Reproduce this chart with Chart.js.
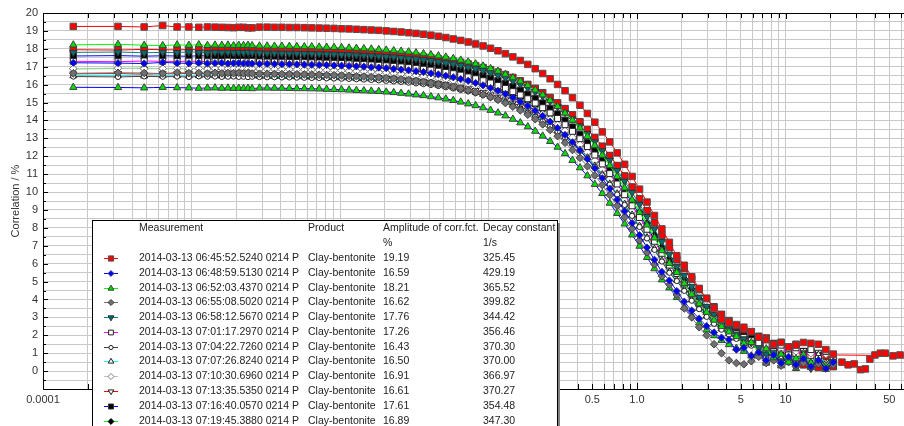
<!DOCTYPE html>
<html>
<head>
<meta charset="utf-8">
<script src="https://cdn.jsdelivr.net/npm/chart.js@4.4.1/dist/chart.umd.min.js"></script>
<style>
  html, body { margin: 0; padding: 0; background: #fff; overflow: hidden; }
  #wrap { width: 904px; height: 426px; overflow: hidden; }
  canvas { display: block; }
</style>
</head>
<body>
<div id="wrap"><canvas id="corr-chart" width="944" height="426"></canvas></div>
<script>
// lag times shared by every measurement (x axis, log)
const LAG_TIMES = [0.00016, 0.00032, 0.00048, 0.00064, 0.0008, 0.00096, 0.00112, 0.00128, 0.00144, 0.0016, 0.00176, 0.00192, 0.00208, 0.00224, 0.0024, 0.00256,
  0.00287, 0.00323, 0.00362, 0.00406, 0.00456, 0.00512, 0.00575, 0.00645, 0.00724, 0.00813, 0.00912, 0.01024, 0.0115,
  0.0129, 0.01448, 0.01625, 0.01824, 0.02048, 0.02299, 0.0258, 0.02896, 0.0325, 0.03648, 0.04095, 0.04597, 0.0516, 0.05792, 0.065,
  0.07297, 0.0819, 0.09194, 0.1032, 0.1158, 0.13, 0.1459, 0.1638, 0.1839, 0.2064, 0.2317, 0.26, 0.2919, 0.3277, 0.3678, 0.4129,
  0.4634, 0.52, 0.5838, 0.6554, 0.7356, 0.8258, 0.9269, 1.04, 1.168, 1.311, 1.471, 1.652, 1.854, 2.081, 2.336, 2.621, 2.943,
  3.303, 3.707, 4.161, 4.671, 5.243, 5.885, 6.606, 7.415, 8.323, 9.342, 10.49, 11.77, 13.21, 14.83, 16.65, 18.69, 20.97];

const CORR_1 = [19.25, 19.25, 19.22, 19.3, 19.22, 19.22, 19.2, 19.22, 19.21, 19.2, 19.19, 19.18, 19.2, 19.2, 19.17, 19.17,
  19.21, 19.21, 19.2, 19.2, 19.19, 19.19, 19.18, 19.17, 19.16, 19.15, 19.14, 19.12, 19.11,
  19.09, 19.07, 19.05, 19.03, 19.0, 18.97, 18.94, 18.9, 18.86, 18.81, 18.76, 18.7, 18.63, 18.55, 18.47, 18.38, 18.27, 18.16, 18.03, 17.89,
  17.73, 17.55, 17.35, 17.13, 16.89, 16.62, 16.33, 16.01, 15.66, 15.27, 14.85, 14.39, 13.9, 13.36, 12.8, 12.19, 11.55, 10.87, 10.16, 9.44,
  8.69, 7.94, 7.19, 6.44, 5.91, 5.27, 4.62, 4.07, 3.5, 2.9, 2.7, 2.6, 2.45, 2.2, 1.9, 1.75, 1.5, 1.6, 1.35, 1.45, 1.6, 1.55, 1.5, 1.2, 0.95];
const CORR_2 = [17.22, 17.2, 17.18, 17.24, 17.2, 17.19, 17.21, 17.18, 17.2, 17.21, 17.17, 17.19, 17.2, 17.18, 17.19, 17.17,
  17.16, 17.16, 17.15, 17.14, 17.14, 17.13, 17.12, 17.11, 17.1, 17.09, 17.07, 17.06, 17.04,
  17.02, 17.0, 16.97, 16.95, 16.92, 16.88, 16.84, 16.8, 16.75, 16.7, 16.63, 16.57, 16.49, 16.41, 16.31, 16.21, 16.09, 15.96, 15.81, 15.65,
  15.47, 15.27, 15.05, 14.81, 14.55, 14.25, 13.93, 13.58, 13.19, 12.78, 12.33, 11.84, 11.33, 10.77, 10.19, 9.57, 8.93, 8.27, 7.59, 6.9,
  6.22, 5.54, 5.06, 4.47, 3.88, 3.38, 2.93, 2.51, 2.16, 1.87, 1.75, 1.2, 1.3, 0.85, 1.05, 0.6, 0.9, 0.45, 0.8, 0.35, 0.7, 0.25, 0.6, 0.15, 0.5];
const CORR_3 = [18.22, 18.25, 18.2, 18.18, 18.22, 18.2, 18.23, 18.19, 18.21, 18.2, 18.21, 18.18, 18.2, 18.19, 18.2, 18.18,
  18.16, 18.16, 18.15, 18.15, 18.14, 18.13, 18.12, 18.12, 18.1, 18.09, 18.08, 18.07, 18.05,
  18.03, 18.01, 17.99, 17.96, 17.93, 17.9, 17.87, 17.83, 17.78, 17.73, 17.67, 17.61, 17.54, 17.46, 17.37, 17.27, 17.16, 17.04, 16.9, 16.75,
  16.58, 16.39, 16.19, 15.96, 15.7, 15.43, 15.12, 14.78, 14.41, 14.01, 13.58, 13.11, 12.6, 12.06, 11.48, 10.87, 10.23, 9.56, 8.87, 8.16,
  7.44, 6.73, 6.02, 5.51, 4.9, 4.29, 3.76, 3.29, 2.85, 2.49, 2.19, 1.93, 1.55, 1.6, 1.1, 1.25, 0.75, 0.95, 0.5, 0.7, 0.9, 0.45, 0.6, 0.3, 0.55];
const CORR_4 = [16.63, 16.66, 16.65, 16.62, 16.68, 16.64, 16.65, 16.62, 16.66, 16.63, 16.65, 16.64, 16.66, 16.63, 16.65, 16.62,
  16.61, 16.61, 16.6, 16.59, 16.59, 16.58, 16.57, 16.56, 16.55, 16.54, 16.53, 16.51, 16.49,
  16.47, 16.45, 16.43, 16.4, 16.37, 16.34, 16.3, 16.26, 16.21, 16.16, 16.1, 16.03, 15.96, 15.88, 15.79, 15.68, 15.57, 15.44, 15.3, 15.15,
  14.97, 14.77, 14.56, 14.32, 14.07, 13.78, 13.47, 13.12, 12.75, 12.35, 11.91, 11.44, 10.93, 10.39, 9.83, 9.23, 8.6, 7.96, 7.3, 6.63,
  5.96, 5.3, 4.83, 4.26, 3.5, 3.0, 2.45, 2.0, 1.5, 1.0, 0.6, 0.45, 0.38, 0.55, 0.8, 0.45, 0.6, 0.3, 0.5, 0.25, 0.45, 0.2, 0.4, 0.15, 0.35];
const CORR_5 = [17.8, 17.82, 17.78, 17.8, 17.79, 17.83, 17.8, 17.78, 17.81, 17.79, 17.8, 17.78, 17.8, 17.79, 17.81, 17.78,
  17.77, 17.76, 17.76, 17.75, 17.75, 17.74, 17.73, 17.73, 17.72, 17.71, 17.7, 17.68, 17.67,
  17.65, 17.63, 17.61, 17.59, 17.57, 17.54, 17.51, 17.47, 17.43, 17.39, 17.34, 17.28, 17.22, 17.15, 17.07, 16.98, 16.89, 16.78, 16.66, 16.53,
  16.38, 16.21, 16.03, 15.82, 15.6, 15.35, 15.07, 14.77, 14.44, 14.08, 13.69, 13.26, 12.8, 12.3, 11.77, 11.2, 10.6, 9.97, 9.31, 8.63,
  7.93, 7.23, 6.52, 5.83, 5.33, 4.73, 4.13, 3.61, 3.15, 2.72, 2.35, 2.06, 1.8, 1.58, 1.3, 0.95, 1.05, 0.55, 0.7, 0.25, 0.6, 0.15, 0.4, 0.2, 0.45];
const CORR_6 = [17.3, 17.28, 17.32, 17.3, 17.29, 17.31, 17.3, 17.28, 17.3, 17.29, 17.31, 17.3, 17.29, 17.3, 17.28, 17.3,
  17.27, 17.26, 17.26, 17.25, 17.24, 17.24, 17.23, 17.22, 17.21, 17.2, 17.19, 17.18, 17.16,
  17.14, 17.12, 17.1, 17.08, 17.05, 17.02, 16.99, 16.95, 16.91, 16.86, 16.81, 16.75, 16.68, 16.61, 16.53, 16.43, 16.33, 16.22, 16.09, 15.95,
  15.79, 15.61, 15.42, 15.21, 14.97, 14.71, 14.42, 14.11, 13.76, 13.39, 12.98, 12.54, 12.07, 11.57, 11.03, 10.45, 9.85, 9.23, 8.58, 7.92,
  7.25, 6.58, 5.92, 5.45, 4.87, 4.3, 3.81, 3.37, 2.96, 2.62, 2.34, 2.09, 1.88, 1.7, 1.56, 1.5, 1.1, 1.45, 0.9, 1.3, 0.75, 1.2, 0.7, 1.1, 0.8];
const CORR_7 = [16.45, 16.43, 16.46, 16.44, 16.45, 16.42, 16.46, 16.44, 16.45, 16.43, 16.44, 16.45, 16.43, 16.44, 16.42, 16.44,
  16.42, 16.41, 16.41, 16.4, 16.4, 16.39, 16.38, 16.37, 16.37, 16.35, 16.34, 16.33, 16.32,
  16.3, 16.28, 16.26, 16.24, 16.21, 16.18, 16.15, 16.11, 16.07, 16.03, 15.98, 15.92, 15.85, 15.78, 15.7, 15.62, 15.52, 15.41, 15.28, 15.15,
  15.0, 14.82, 14.64, 14.43, 14.2, 13.95, 13.68, 13.37, 13.04, 12.68, 12.29, 11.87, 11.41, 10.93, 10.41, 9.86, 9.28, 8.67, 8.05, 7.41,
  6.77, 6.12, 5.49, 5.03, 4.48, 3.93, 3.46, 3.03, 2.64, 2.31, 2.04, 1.8, 1.6, 1.42, 1.2, 0.8, 1.1, 0.55, 0.95, 0.4, 0.75, 0.35, 0.65, 0.25, 0.55];
const CORR_8 = [16.5, 16.52, 16.48, 16.5, 16.51, 16.49, 16.5, 16.53, 16.5, 16.48, 16.5, 16.49, 16.51, 16.5, 16.48, 16.49,
  16.47, 16.46, 16.46, 16.45, 16.45, 16.44, 16.43, 16.42, 16.42, 16.4, 16.39, 16.38, 16.37,
  16.35, 16.33, 16.31, 16.29, 16.26, 16.23, 16.2, 16.16, 16.12, 16.08, 16.03, 15.97, 15.9, 15.83, 15.75, 15.67, 15.57, 15.46, 15.33, 15.2,
  15.05, 14.87, 14.69, 14.48, 14.25, 14.0, 13.73, 13.42, 13.09, 12.73, 12.34, 11.92, 11.46, 10.98, 10.46, 9.91, 9.33, 8.72, 8.1, 7.46,
  6.82, 6.17, 5.54, 5.08, 4.53, 3.98, 3.51, 3.08, 2.69, 2.36, 2.09, 1.85, 1.65, 1.47, 1.45, 0.95, 1.3, 0.7, 1.15, 0.55, 1.0, 0.5, 0.9, 0.45, 0.7];
const CORR_9 = [16.9, 16.92, 16.88, 16.9, 16.91, 16.89, 16.9, 16.87, 16.9, 16.92, 16.89, 16.9, 16.88, 16.91, 16.89, 16.9,
  16.87, 16.86, 16.86, 16.85, 16.85, 16.84, 16.83, 16.82, 16.81, 16.8, 16.79, 16.78, 16.76,
  16.75, 16.73, 16.71, 16.68, 16.66, 16.63, 16.59, 16.56, 16.51, 16.47, 16.42, 16.36, 16.29, 16.22, 16.14, 16.05, 15.95, 15.83, 15.71, 15.57,
  15.41, 15.24, 15.05, 14.84, 14.6, 14.35, 14.07, 13.76, 13.42, 13.05, 12.65, 12.22, 11.75, 11.25, 10.72, 10.16, 9.57, 8.95, 8.31, 7.66,
  7.0, 6.34, 5.69, 5.23, 4.66, 4.1, 3.62, 3.18, 2.78, 2.44, 2.17, 1.93, 1.72, 1.54, 1.4, 1.35, 0.9, 1.25, 0.8, 1.1, 0.65, 1.0, 0.6, 0.95, 0.7];
const CORR_10 = [16.6, 16.62, 16.58, 16.61, 16.6, 16.63, 16.59, 16.6, 16.62, 16.6, 16.58, 16.6, 16.61, 16.59, 16.6, 16.58,
  16.57, 16.56, 16.56, 16.55, 16.55, 16.54, 16.53, 16.52, 16.52, 16.5, 16.49, 16.48, 16.47,
  16.45, 16.43, 16.41, 16.39, 16.36, 16.33, 16.3, 16.26, 16.22, 16.18, 16.13, 16.07, 16.0, 15.93, 15.85, 15.77, 15.67, 15.56, 15.43, 15.3,
  15.15, 14.97, 14.79, 14.58, 14.36, 14.11, 13.84, 13.53, 13.2, 12.84, 12.46, 12.04, 11.58, 11.1, 10.58, 10.03, 9.45, 8.84, 8.23, 7.59,
  6.95, 6.3, 5.67, 5.21, 4.67, 4.12, 3.65, 3.22, 2.83, 2.5, 2.23, 2.0, 1.79, 1.62, 1.55, 1.05, 1.4, 0.85, 1.25, 0.7, 1.15, 0.6, 1.05, 0.55, 0.85];
const CORR_11 = [17.6, 17.62, 17.59, 17.61, 17.6, 17.58, 17.62, 17.6, 17.59, 17.61, 17.6, 17.58, 17.6, 17.61, 17.59, 17.6,
  17.56, 17.56, 17.56, 17.55, 17.54, 17.54, 17.53, 17.52, 17.51, 17.5, 17.49, 17.47, 17.46,
  17.44, 17.42, 17.4, 17.38, 17.35, 17.32, 17.28, 17.25, 17.2, 17.15, 17.1, 17.04, 16.97, 16.9, 16.81, 16.72, 16.62, 16.5, 16.37, 16.23,
  16.07, 15.89, 15.69, 15.47, 15.23, 14.97, 14.68, 14.36, 14.01, 13.63, 13.22, 12.77, 12.29, 11.78, 11.23, 10.65, 10.04, 9.4, 8.75, 8.08,
  7.39, 6.72, 6.04, 5.57, 4.98, 4.4, 3.9, 3.46, 3.04, 2.69, 2.41, 2.16, 1.95, 1.85, 1.95, 1.2, 1.55, 0.9, 1.35, 0.45, 1.1, 0.3, 0.9, 0.25, 0.8];
const CORR_12 = [16.88, 16.9, 16.92, 16.89, 16.9, 16.88, 16.91, 16.9, 16.89, 16.9, 16.88, 16.9, 16.91, 16.89, 16.9, 16.88,
  16.87, 16.86, 16.86, 16.86, 16.85, 16.85, 16.84, 16.83, 16.82, 16.81, 16.8, 16.79, 16.78,
  16.76, 16.74, 16.72, 16.7, 16.68, 16.65, 16.62, 16.59, 16.55, 16.51, 16.46, 16.41, 16.35, 16.29, 16.21, 16.13, 16.04, 15.94, 15.83, 15.7,
  15.56, 15.4, 15.23, 15.04, 14.82, 14.59, 14.33, 14.05, 13.74, 13.4, 13.02, 12.62, 12.19, 11.72, 11.22, 10.68, 10.12, 9.52, 8.9, 8.26,
  7.6, 6.94, 6.28, 5.62, 5.15, 4.59, 4.02, 3.54, 3.1, 2.69, 2.35, 2.08, 1.83, 1.62, 1.45, 1.15, 1.25, 0.7, 0.95, 0.35, 0.75, 0.2, 0.6, 0.25, 0.55];
// two more runs whose legend rows fall below the visible window
const CORR_13 = [17.95, 17.93, 17.97, 17.95, 17.94, 17.96, 17.95, 17.92, 17.95, 17.94, 17.96, 17.93, 17.95, 17.94, 17.96, 17.93,
  17.92, 17.91, 17.91, 17.9, 17.9, 17.89, 17.89, 17.88, 17.87, 17.86, 17.85, 17.84, 17.82,
  17.8, 17.79, 17.77, 17.75, 17.72, 17.69, 17.66, 17.63, 17.59, 17.55, 17.5, 17.44, 17.38, 17.31, 17.24, 17.15, 17.06, 16.95, 16.83, 16.7,
  16.56, 16.4, 16.21, 16.01, 15.79, 15.55, 15.28, 14.98, 14.66, 14.31, 13.92, 13.5, 13.05, 12.56, 12.04, 11.48, 10.9, 10.28, 9.63, 8.96,
  8.28, 7.59, 6.9, 6.22, 5.73, 5.14, 4.55, 4.05, 3.59, 3.17, 2.82, 2.53, 2.28, 2.2, 1.7, 1.85, 1.4, 1.6, 1.0, 1.5, 0.35, 1.1, 0.2, 0.7, 0.25];
const CORR_14 = [15.85, 15.84, 15.82, 15.85, 15.83, 15.82, 15.8, 15.81, 15.82, 15.8, 15.81, 15.79, 15.8, 15.79, 15.8, 15.78,
  15.81, 15.81, 15.8, 15.8, 15.79, 15.78, 15.78, 15.77, 15.76, 15.74, 15.73, 15.72, 15.7,
  15.68, 15.66, 15.64, 15.62, 15.59, 15.56, 15.52, 15.48, 15.43, 15.39, 15.33, 15.27, 15.2, 15.12, 15.03, 14.93, 14.83, 14.71, 14.57, 14.42,
  14.26, 14.07, 13.87, 13.65, 13.4, 13.13, 12.83, 12.51, 12.15, 11.77, 11.36, 10.91, 10.43, 9.92, 9.38, 8.81, 8.22, 7.61, 6.98, 6.35,
  5.72, 5.1, 4.65, 4.11, 3.57, 3.1, 2.69, 2.3, 1.98, 1.71, 1.48, 1.28, 1.11, 0.85, 1.0, 0.45, 0.75, 0.3, 0.65, 0.15, 0.55, 0.2, 0.5, 0.1, 0.35];

// first run is measured further out
const RED_TAIL_LAGS = [24, 26.4, 29, 32, 34.5, 37, 40, 43.5, 47, 53, 59, 66];
const RED_TAIL_CORR = [0.5, 0.35, 0.4, 0.08, 0.12, 0.67, 0.9, 1.0, 1.0, 0.85, 0.9, 0.85];
const RED_FIT_TAIL_LAGS = [21, 100];
const RED_FIT_TAIL_CORR = [0.9, 0.85];

// legend table
const MEASUREMENTS = [
  '2014-03-13 06:45:52.5240 0214 P', '2014-03-13 06:48:59.5130 0214 P', '2014-03-13 06:52:03.4370 0214 P',
  '2014-03-13 06:55:08.5020 0214 P', '2014-03-13 06:58:12.5670 0214 P', '2014-03-13 07:01:17.2970 0214 P',
  '2014-03-13 07:04:22.7260 0214 P', '2014-03-13 07:07:26.8240 0214 P', '2014-03-13 07:10:30.6960 0214 P',
  '2014-03-13 07:13:35.5350 0214 P', '2014-03-13 07:16:40.0570 0214 P', '2014-03-13 07:19:45.3880 0214 P'];
const PRODUCT = 'Clay-bentonite';
const AMPLITUDES = [19.19, 16.59, 18.21, 16.62, 17.76, 17.26, 16.43, 16.50, 16.91, 16.61, 17.61, 16.89];
const DECAY_CONSTANTS = [325.45, 429.19, 365.52, 399.82, 344.42, 356.46, 370.30, 370.00, 366.97, 370.27, 354.48, 347.30];

const X_LABEL_VALUES = [0.0001, 0.0005, 0.001, 0.005, 0.01, 0.05, 0.1, 0.5, 1, 5, 10, 50];
const X_LABEL_TEXT = ['0.0001', '0.0005', '0.001', '0.005', '0.01', '0.05', '0.1', '0.5', '1.0', '5', '10', '50'];

const SERIES = [CORR_1, CORR_2, CORR_3, CORR_4, CORR_5, CORR_6, CORR_7, CORR_8, CORR_9, CORR_10, CORR_11, CORR_12, CORR_13, CORR_14];

// marker + line style per run
const STYLES = [
  { shape: 'rect',     rot: 0,   r: 4.6, fill: '#ff0000', edge: '#505050', line: '#ff0000' },
  { shape: 'rectRot',  rot: 0,   r: 3.6, fill: '#0000ff', edge: '#303070', line: '#0000ff' },
  { shape: 'triangle', rot: 0,   r: 4.2, fill: '#00e000', edge: '#404040', line: '#00ff00' },
  { shape: 'rectRot',  rot: 0,   r: 3.8, fill: '#707070', edge: '#404040', line: '#707070' },
  { shape: 'triangle', rot: 180, r: 4.2, fill: '#007070', edge: '#303030', line: '#008080' },
  { shape: 'rect',     rot: 0,   r: 4.2, fill: '#ffffff', edge: '#202020', line: '#ff00ff' },
  { shape: 'circle',   rot: 0,   r: 2.6, fill: '#ffffff', edge: '#202020', line: '#404040' },
  { shape: 'triangle', rot: 0,   r: 4.0, fill: '#ffffff', edge: '#202020', line: '#00ffff' },
  { shape: 'rectRot',  rot: 0,   r: 3.8, fill: '#ffffff', edge: '#808080', line: '#c0c0c0' },
  { shape: 'triangle', rot: 180, r: 4.0, fill: '#ffffff', edge: '#202020', line: '#ff0000' },
  { shape: 'rect',     rot: 0,   r: 4.4, fill: '#000000', edge: '#303030', line: '#0000ff' },
  { shape: 'rectRot',  rot: 0,   r: 3.6, fill: '#000000', edge: '#000000', line: '#00ff00' },
  { shape: 'rect',     rot: 0,   r: 4.6, fill: '#ff0000', edge: '#404040', line: '#ff0000' },
  { shape: 'triangle', rot: 0,   r: 4.2, fill: '#00e000', edge: '#404040', line: '#0000ff' }
];

const datasets = SERIES.map((vals, i) => {
  const st = STYLES[i];
  return {
    label: MEASUREMENTS[i] || '',
    data: LAG_TIMES.map((t, j) => ({ x: t, y: vals[j] })),
    showLine: true,
    cubicInterpolationMode: 'monotone',
    borderColor: st.line,
    borderWidth: 1,
    pointStyle: st.shape,
    pointRotation: st.rot,
    pointRadius: st.r,
    pointBackgroundColor: st.fill,
    pointBorderColor: st.edge,
    pointBorderWidth: 1
  };
});
datasets.push({
  label: 'tail',
  data: RED_TAIL_LAGS.map((t, j) => ({ x: t, y: RED_TAIL_CORR[j] })),
  showLine: false,
  pointStyle: 'rect', pointRadius: 4.6,
  pointBackgroundColor: '#ff0000', pointBorderColor: '#505050', pointBorderWidth: 1
});
datasets.push({
  label: 'tail fit',
  data: RED_FIT_TAIL_LAGS.map((t, j) => ({ x: t, y: RED_FIT_TAIL_CORR[j] })),
  showLine: true, borderColor: '#ff0000', borderWidth: 1, pointRadius: 0
});

function drawMarker(ctx, st, x, y, r) {
  ctx.fillStyle = st.fill;
  ctx.strokeStyle = st.edge;
  ctx.lineWidth = 1;
  Chart.helpers.drawPoint(ctx, { pointStyle: st.shape, rotation: st.rot, radius: r, borderWidth: 1 }, x, y);
}

const frameAndLegend = {
  id: 'frameAndLegend',
  afterDraw(chart) {
    const { ctx, chartArea: a, scales: { x, y } } = chart;
    ctx.save();
    ctx.strokeStyle = '#000';
    ctx.lineWidth = 1;
    // top frame line
    ctx.beginPath();
    ctx.moveTo(a.left, a.top + 0.5);
    ctx.lineTo(a.right, a.top + 0.5);
    ctx.stroke();
    // inward ticks on top and bottom
    ctx.beginPath();
    x.ticks.forEach(t => {
      const px = Math.round(x.getPixelForValue(t.value)) + 0.5;
      const len = t.major ? 6 : 5;
      ctx.moveTo(px, a.top); ctx.lineTo(px, a.top + len);
      ctx.moveTo(px, a.bottom); ctx.lineTo(px, a.bottom - len);
    });
    // inward ticks on the left
    y.ticks.forEach(t => {
      const py = Math.round(y.getPixelForValue(t.value)) + 0.5;
      const len = Number.isInteger(t.value) ? 5 : 3;
      ctx.moveTo(a.left, py); ctx.lineTo(a.left + len, py);
    });
    ctx.stroke();

    // legend table
    const L = { left: 92, top: 220, right: 558, bottom: 460 };
    ctx.fillStyle = '#808080';
    ctx.fillRect(L.right, L.top + 3, 2, L.bottom - L.top);
    ctx.fillStyle = '#ffffff';
    ctx.fillRect(L.left, L.top, L.right - L.left, L.bottom - L.top);
    ctx.strokeStyle = '#000';
    ctx.strokeRect(L.left + 0.5, L.top + 0.5, L.right - L.left - 1, L.bottom - L.top);

    ctx.font = '10.5px "Liberation Sans", Arial, sans-serif';
    ctx.fillStyle = '#222';
    ctx.textBaseline = 'middle';
    ctx.textAlign = 'left';
    const colMeas = 139, colProd = 308, colAmp = 383, colDecay = 483;
    ctx.fillText('Measurement', colMeas, 228);
    ctx.fillText('Product', colProd, 228);
    ctx.fillText('Amplitude of corr.fct.', colAmp, 228);
    ctx.fillText('Decay constant', colDecay, 228);
    ctx.fillText('%', colAmp, 243);
    ctx.fillText('1/s', colDecay, 243);

    MEASUREMENTS.forEach((m, i) => {
      const ry = Math.round(258 + i * 14.78);
      const st = STYLES[i];
      ctx.strokeStyle = st.line;
      ctx.lineWidth = 1;
      ctx.beginPath();
      ctx.moveTo(104, ry + 0.5); ctx.lineTo(118, ry + 0.5);
      ctx.stroke();
      drawMarker(ctx, st, 111, ry + 0.5, st.r * 0.8);
      ctx.fillStyle = '#222';
      ctx.fillText(m, colMeas, ry);
      ctx.fillText(PRODUCT, colProd, ry);
      ctx.fillText(AMPLITUDES[i].toFixed(2), colAmp, ry);
      ctx.fillText(DECAY_CONSTANTS[i].toFixed(2), colDecay, ry);
    });
    ctx.restore();
  }
};

Chart.defaults.font.family = '"Liberation Sans", Arial, sans-serif';
Chart.defaults.font.size = 11;
Chart.defaults.color = '#333';

new Chart(document.getElementById('corr-chart'), {
  type: 'scatter',
  data: { datasets },
  options: {
    responsive: false,
    animation: false,
    events: [],
    devicePixelRatio: 1,
    layout: { padding: { top: 13, right: 10, left: 0, bottom: 0 } },
    plugins: { legend: { display: false }, tooltip: { enabled: false } },
    scales: {
      x: {
        type: 'logarithmic',
        min: 0.0001,
        max: 100,
        afterFit: s => { s.height = 37; },
        afterBuildTicks: s => {
          const ticks = [];
          for (let e = -4; e <= 2; e++) {
            for (let k = 1; k <= 9; k++) {
              const v = k * Math.pow(10, e);
              if (v <= 100 * 1.0001) ticks.push({ value: v, major: k === 1 });
            }
          }
          s.ticks = ticks;
        },
        grid: { color: '#c8c8c8', lineWidth: 1, drawTicks: false },
        border: { color: '#000', width: 1 },
        ticks: {
          autoSkip: false, maxRotation: 0, minRotation: 0, padding: 4, color: '#333',
          callback: v => {
            const idx = X_LABEL_VALUES.findIndex(l => Math.abs(v / l - 1) < 1e-6);
            return idx >= 0 ? X_LABEL_TEXT[idx] : '';
          }
        }
      },
      y: {
        min: -1,
        max: 20,
        afterFit: s => { s.width = 43; },
        grid: { color: '#c8c8c8', lineWidth: 1, drawTicks: false },
        border: { color: '#000', width: 1 },
        title: { display: true, text: 'Correlation / %', color: '#333', font: { size: 11 }, padding: { top: 9, bottom: 0 } },
        ticks: {
          stepSize: 0.5, autoSkip: false, padding: 5, color: '#333',
          callback: v => (Number.isInteger(v) && v >= 0 ? String(v) : '')
        }
      }
    }
  },
  plugins: [frameAndLegend]
});
</script>
</body>
</html>
